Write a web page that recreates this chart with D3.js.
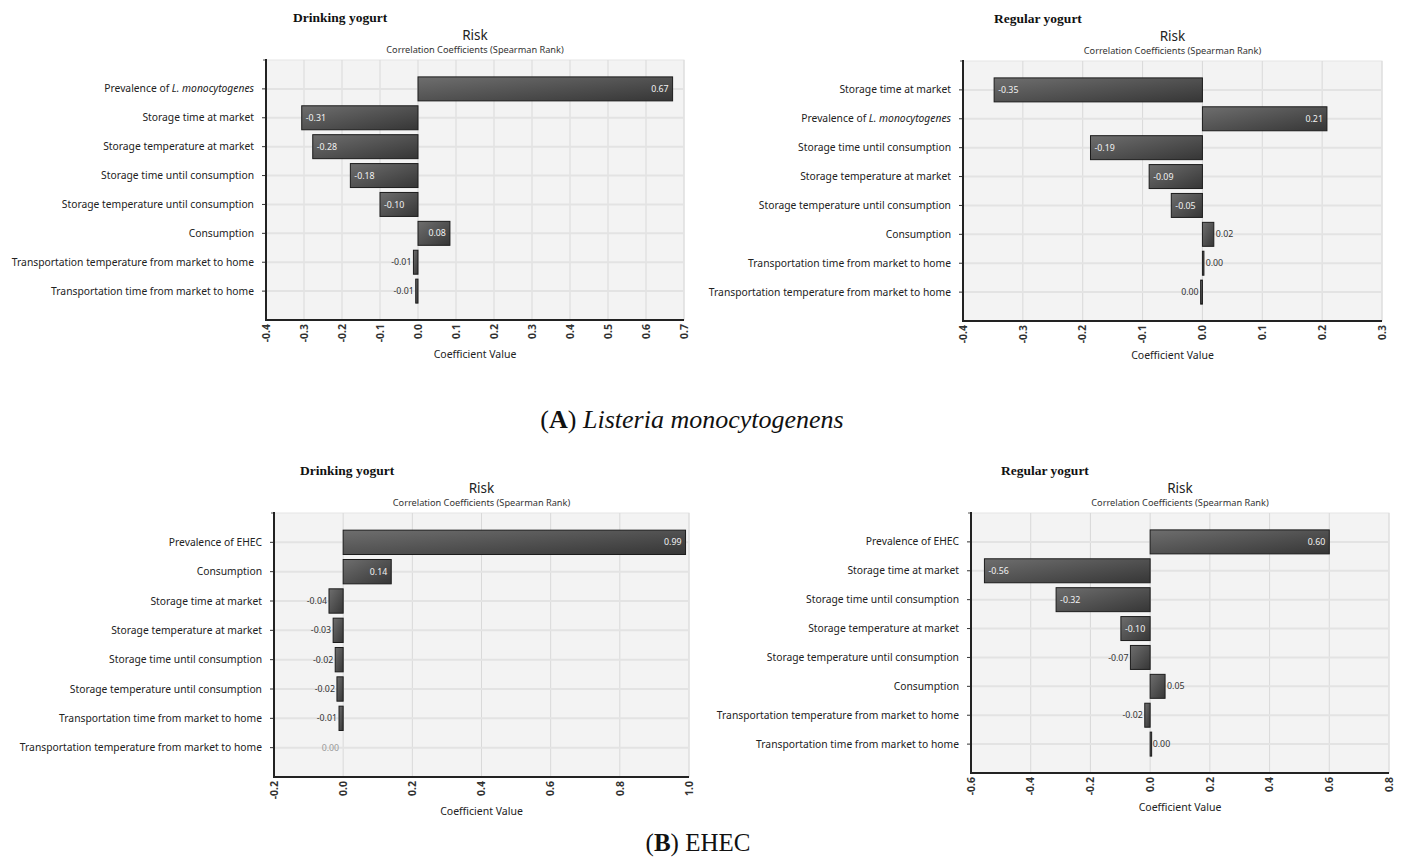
<!DOCTYPE html>
<html><head><meta charset="utf-8">
<script src="https://cdn.jsdelivr.net/npm/d3@7"></script>
<style>body{margin:0;background:#fff} svg{display:block}</style>
</head><body><svg id="c" width="1404" height="859"></svg>
<script>
// ---- Data ----
const listeriaDrinkingCategories = ["Prevalence of L. monocytogenes","Storage time at market","Storage temperature at market","Storage time until consumption","Storage temperature until consumption","Consumption","Transportation temperature from market to home","Transportation time from market to home"];
const listeriaDrinkingValues = [0.67,-0.306,-0.277,-0.178,-0.10,0.084,-0.012,-0.006];
const listeriaDrinkingTicks = [-0.4,-0.3,-0.2,-0.1,0.0,0.1,0.2,0.3,0.4,0.5,0.6,0.7];

const listeriaRegularCategories = ["Storage time at market","Prevalence of L. monocytogenes","Storage time until consumption","Storage temperature at market","Storage temperature until consumption","Consumption","Transportation time from market to home","Transportation temperature from market to home"];
const listeriaRegularValues = [-0.348,0.208,-0.187,-0.089,-0.052,0.019,0.002,-0.003];
const listeriaRegularTicks = [-0.4,-0.3,-0.2,-0.1,0.0,0.1,0.2,0.3];

const ehecDrinkingCategories = ["Prevalence of EHEC","Consumption","Storage time at market","Storage temperature at market","Storage time until consumption","Storage temperature until consumption","Transportation time from market to home","Transportation temperature from market to home"];
const ehecDrinkingValues = [0.99,0.139,-0.041,-0.029,-0.023,-0.018,-0.012,0.0];
const ehecDrinkingTicks = [-0.2,0.0,0.2,0.4,0.6,0.8,1.0];

const ehecRegularCategories = ["Prevalence of EHEC","Storage time at market","Storage time until consumption","Storage temperature at market","Storage temperature until consumption","Consumption","Transportation temperature from market to home","Transportation time from market to home"];
const ehecRegularValues = [0.60,-0.555,-0.315,-0.098,-0.066,0.05,-0.018,0.002];
const ehecRegularTicks = [-0.6,-0.4,-0.2,0.0,0.2,0.4,0.6,0.8];

const panelTitles = ["Drinking yogurt","Regular yogurt","Drinking yogurt","Regular yogurt"];
const chartTitle = "Risk";
const chartSubtitle = "Correlation Coefficients (Spearman Rank)";
const axisTitle = "Coefficient Value";

// ---- Layout ----
const panels = [
  {title:panelTitles[0], cats:listeriaDrinkingCategories, vals:listeriaDrinkingValues, ticks:listeriaDrinkingTicks, box:{l:266,r:684,t:60,b:320}, titleX:293},
  {title:panelTitles[1], cats:listeriaRegularCategories, vals:listeriaRegularValues, ticks:listeriaRegularTicks, box:{l:963,r:1382,t:61,b:321}, titleX:994},
  {title:panelTitles[2], cats:ehecDrinkingCategories, vals:ehecDrinkingValues, ticks:ehecDrinkingTicks, box:{l:274,r:689,t:513,b:777}, titleX:300},
  {title:panelTitles[3], cats:ehecRegularCategories, vals:ehecRegularValues, ticks:ehecRegularTicks, box:{l:971,r:1389,t:513,b:773}, titleX:1001}
];

const svg = d3.select("#c");
svg.append("rect").attr("width",1404).attr("height",859).attr("fill","#fff");
const defs = svg.append("defs");
const grad = defs.append("linearGradient").attr("id","barg").attr("x1","0").attr("y1","0").attr("x2","1").attr("y2","1");
grad.append("stop").attr("offset","0%").attr("stop-color","#6e6e6e");
grad.append("stop").attr("offset","100%").attr("stop-color","#363636");

const SANS = "'Noto Sans', 'Open Sans', sans-serif";
const fmt = v => (Math.abs(v) < 0.005 ? "0.00" : v.toFixed(2));

panels.forEach(p => {
  const {l,r,t,b} = p.box;
  const x = d3.scaleLinear().domain([p.ticks[0], p.ticks[p.ticks.length-1]]).range([l,r]);
  const y = d3.scalePoint().domain(p.cats).range([t,b]).padding(1);
  const step = y.step();
  const g = svg.append("g");
  const cx = (l+r)/2;

  // titles
  g.append("text").attr("x",p.titleX).attr("y",t-38).attr("font-family","'Liberation Serif', 'Times New Roman', serif")
    .attr("font-weight","bold").attr("font-size",13.5).attr("fill","#111").text(p.title);
  g.append("text").attr("x",cx).attr("y",t-20).attr("text-anchor","middle").attr("font-family",SANS)
    .attr("font-size",13.5).attr("fill","#222").text(chartTitle);
  g.append("text").attr("x",cx).attr("y",t-7).attr("text-anchor","middle").attr("font-family",SANS)
    .attr("font-size",9.2).attr("fill","#333").text(chartSubtitle);

  // plot background
  g.append("rect").attr("x",l).attr("y",t).attr("width",r-l).attr("height",b-t).attr("fill","#f3f3f3").attr("stroke","#e6e6e6");

  // vertical grid
  g.selectAll(".vg").data(p.ticks.slice(1)).join("line")
    .attr("x1",d=>x(d)).attr("x2",d=>x(d)).attr("y1",t).attr("y2",b)
    .attr("stroke","#d9d9d9").attr("stroke-width",1);
  // horizontal row lines
  g.selectAll(".hg").data(p.cats).join("line")
    .attr("x1",l).attr("x2",r).attr("y1",d=>y(d)).attr("y2",d=>y(d))
    .attr("stroke","#e3e3e3").attr("stroke-width",2);

  // bars
  const bh = step*0.83;
  const data = p.cats.map((c,i)=>({c, v:p.vals[i]}));
  g.selectAll(".bar").data(data.filter(d=>d.v!==0)).join("rect")
    .attr("x",d=>Math.min(x(0),x(d.v))).attr("y",d=>y(d.c)-bh/2)
    .attr("width",d=>Math.max(1.5,Math.abs(x(d.v)-x(0)))).attr("height",bh)
    .attr("fill","url(#barg)").attr("stroke","#1c1c1c").attr("stroke-width",1);

  // value labels
  data.forEach(d => {
    const w = Math.abs(x(d.v)-x(0));
    const inside = w > 25;
    let tx, anchor, col;
    if (d.v === 0) { tx = x(0)-4; anchor="end"; col="#999"; }
    else if (inside) {
      col = "#f2f2f2";
      if (d.v < 0) { tx = x(d.v)+4; anchor="start"; } else { tx = x(d.v)-4; anchor="end"; }
    } else {
      col = "#333";
      if (d.v < 0) { tx = x(d.v)-2; anchor="end"; } else { tx = x(d.v)+2; anchor="start"; }
    }
    g.append("text").attr("x",tx).attr("y",y(d.c)).attr("dy","0.35em").attr("text-anchor",anchor)
      .attr("font-family",SANS).attr("font-size",8.8).attr("fill",col).text(fmt(d.v));
  });

  // category labels
  g.selectAll(".cl").data(p.cats).join("text")
    .attr("x",l-12).attr("y",d=>y(d)).attr("dy","0.35em").attr("text-anchor","end")
    .attr("font-family",SANS).attr("font-size",10.3).attr("fill","#222")
    .each(function(d){
      const el = d3.select(this);
      const key = "L. monocytogenes";
      if (d.includes(key)) {
        el.append("tspan").text(d.replace(key,""));
        el.append("tspan").attr("font-style","italic").text(key);
      } else el.text(d);
    });

  // left axis ticks
  g.selectAll(".lt").data(p.cats).join("line")
    .attr("x1",l-4).attr("x2",l).attr("y1",d=>y(d)).attr("y2",d=>y(d)).attr("stroke","#333");
  g.append("line").attr("x1",l-3).attr("x2",l).attr("y1",t).attr("y2",t).attr("stroke","#555");
  // axis lines
  g.append("line").attr("x1",l).attr("x2",l).attr("y1",t-1).attr("y2",b+1).attr("stroke","#222").attr("stroke-width",2);
  g.append("line").attr("x1",l).attr("x2",r).attr("y1",b).attr("y2",b).attr("stroke","#222").attr("stroke-width",2);

  // bottom tick labels rotated
  g.selectAll(".tl").data(p.ticks).join("text")
    .attr("transform",d=>`translate(${x(d)},${b+4}) rotate(-90)`)
    .attr("dy","0.35em").attr("text-anchor","end")
    .attr("font-family",SANS).attr("font-size",10.5).attr("font-weight","bold").attr("fill","#333")
    .text(d=>d.toFixed(1));

  g.append("text").attr("x",cx).attr("y",b+38).attr("text-anchor","middle").attr("font-family",SANS)
    .attr("font-size",10.5).attr("fill","#222").text(axisTitle);
});

// captions
const SERIF = "'Liberation Serif', 'Times New Roman', serif";
const capA = svg.append("text").attr("x",692).attr("y",428).attr("text-anchor","middle")
  .attr("font-family",SERIF).attr("font-size",26).attr("fill","#111");
capA.append("tspan").text("(");
capA.append("tspan").attr("font-weight","bold").text("A");
capA.append("tspan").text(") ");
capA.append("tspan").attr("font-style","italic").text("Listeria monocytogenens");

const capB = svg.append("text").attr("x",698).attr("y",851).attr("text-anchor","middle")
  .attr("font-family",SERIF).attr("font-size",25).attr("fill","#111");
capB.append("tspan").text("(");
capB.append("tspan").attr("font-weight","bold").text("B");
capB.append("tspan").text(") EHEC");
</script>
</body></html>
